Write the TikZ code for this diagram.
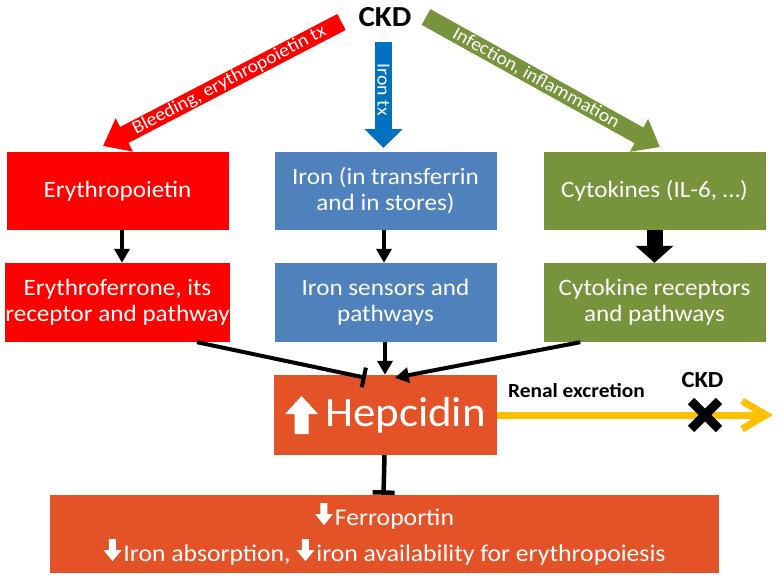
\documentclass[tikz,border=0pt]{standalone}
\usepackage{fontspec}
\setmainfont{Carlito}[FakeStretch=1.07]
\usetikzlibrary{arrows.meta,calc}
\definecolor{cred}{RGB}{255,0,0}
\definecolor{cblue}{RGB}{79,129,189}
\definecolor{cgreen}{RGB}{119,147,60}
\definecolor{carrblue}{RGB}{0,112,192}
\definecolor{chep}{RGB}{228,82,40}
\definecolor{cyel}{RGB}{255,192,0}
\newcommand{\dnarr}{\tikz[baseline=0pt,x=1pt,y=1pt]\fill[white] (-3.5,22)--(3.5,22)--(3.5,11)--(9,11)--(0,0)--(-9,11)--(-3.5,11)--cycle;}
\newcommand{\uparr}{\tikz[baseline=8pt,x=1pt,y=1pt]\fill[white] (-7,0)--(7,0)--(7,20)--(16.5,20)--(0,38)--(-16.5,20)--(-7,20)--cycle;}
\begin{document}
\begin{tikzpicture}[x=1pt,y=1pt,
  box/.style={rectangle, draw=none, text=white, align=center, inner sep=0pt,
    font=\fontsize{23.5}{26}\selectfont},
  toprow/.style={box, minimum width=222pt, minimum height=78pt},
  botrow/.style={box, minimum width=222pt, minimum height=79pt},
  lbl/.style={text=white, inner sep=0pt, font=\fontsize{18.5}{18.5}\selectfont},
  fatarr/.style={line width=18pt, -{Triangle[length=24pt,width=36pt]}},
  thinarr/.style={line width=3.5pt, -{Triangle[length=14pt,width=15pt]}},
  inhib/.style={line width=4pt, -{Bar[width=20pt]}},
  bolds/.style={inner sep=0pt, font=\bfseries\fontsize{#1}{#1}\selectfont}]
\useasboundingbox (0,0) rectangle (782,-581);

% top label
\node[bolds=29] (ckd) at (385,-17.5) {CKD};

% boxes
\node[toprow, fill=cred] (ery) at (117.5,-191) {Erythropoietin};
\node[toprow, fill=cblue] (iron) at (385.5,-191) {Iron (in transferrin\\and in stores)};
\node[toprow, fill=cgreen] (cyt) at (654.5,-191) {Cytokines (IL-6, \dots)};
\node[botrow, fill=cred] (eryf) at (117.5,-302.5) {Erythroferrone, its\\receptor and pathway};
\node[botrow, fill=cblue] (irs) at (385.5,-302.5) {Iron sensors and\\pathways};
\node[botrow, fill=cgreen] (cytr) at (654.5,-302.5) {Cytokine receptors\\and pathways};
\node[box, fill=chep, minimum width=223pt, minimum height=80pt, font=\fontsize{42}{42}\selectfont]
  (hep) at (385.5,-415) {\uparr\hspace{7pt}Hepcidin};
\node[box, fill=chep, minimum width=669pt, minimum height=78pt, font=\fontsize{24}{36}\selectfont]
  (bot) at (384.5,-534) {\dnarr\hspace{2pt}Ferroportin\\
  \dnarr\hspace{2pt}Iron absorption, \dnarr\hspace{2pt}iron availability for erythropoiesis};

% fat arrows from CKD
\coordinate (rt) at (341.5,-22);  \coordinate (rh) at (103,-146);
\coordinate (bt) at (383.5,-42);  \coordinate (bh) at (383.5,-148);
\coordinate (gt) at (426,-17);    \coordinate (gh) at (660,-147);
\draw[fatarr, cred] (rt) -- (rh) node[lbl, pos=0.47, sloped] {Bleeding, erythropoietin tx};
\draw[line width=17pt, carrblue, -{Triangle[length=19pt,width=37pt]}] (bt) -- (bh)
  node[lbl, pos=0.45, sloped] {Iron tx};
\draw[fatarr, cgreen] (gt) -- (gh) node[lbl, pos=0.47, sloped] {Infection, inflammation};

% row connectors
\draw[thinarr] ([xshift=4.5pt]ery.south) -- ([xshift=4.5pt]eryf.north);
\draw[thinarr] ([xshift=-1.5pt]iron.south) -- ([xshift=-1.5pt]irs.north);
\draw[line width=16pt, -{Triangle[length=17pt,width=37pt]}] (cyt.south) -- (cytr.north);

% to hepcidin
\draw[inhib] ($(eryf.south east)+(-33,0)$) -- ($(hep.north west)+(92,-3)$);
\draw[thinarr] ([xshift=-0.5pt]irs.south) -- ([xshift=-0.5pt]hep.north);
\draw[line width=4pt, -{Triangle[length=14pt,width=15pt]}] ($(cytr.south west)+(37,0)$) -- ($(hep.north west)+(121,-3)$);

% hepcidin to bottom
\draw[line width=4.5pt, -{Bar[width=22pt]}] ([xshift=-1pt]hep.south) -- ([xshift=-1pt]bot.north);

% renal excretion
\coordinate (yend) at (773,-415);
\draw[cyel, line width=7pt, -{Straight Barb[length=24pt,width=28pt]}] (hep.east) -- (yend);
\node[bolds=20] (renal) at (576.5,-391) {Renal excretion};
\coordinate (xm) at (705,-415);
\draw[line width=9pt] ($(xm)+(-14,-14)$) -- ($(xm)+(14,14)$);
\draw[line width=9pt] ($(xm)+(-14,14)$) -- ($(xm)+(14,-14)$);
\node[bolds=23] (ckd2) at (702.5,-380.5) {CKD};
\end{tikzpicture}
\end{document}
